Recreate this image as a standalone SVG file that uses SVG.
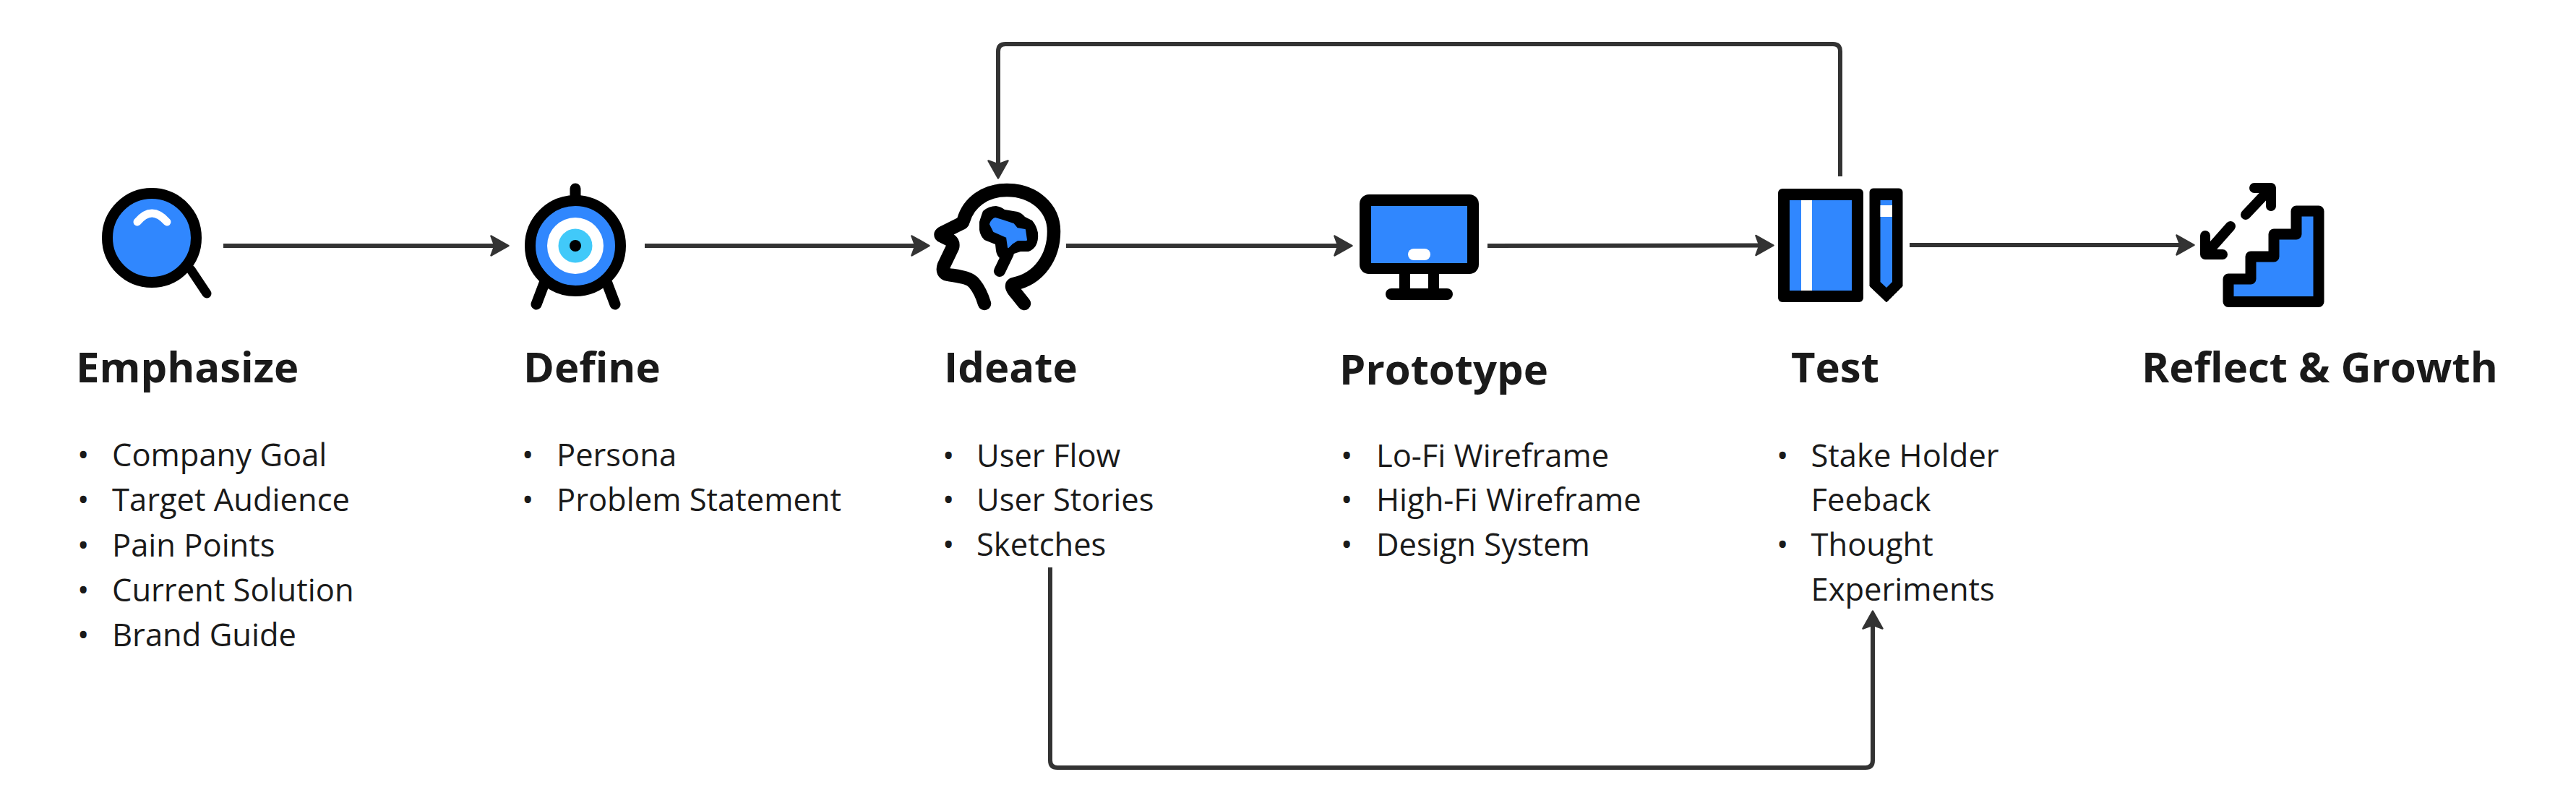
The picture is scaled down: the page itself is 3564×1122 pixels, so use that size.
<svg xmlns="http://www.w3.org/2000/svg" width="3564" height="1122" viewBox="0 0 3564 1122">
<style>
text{font-family:"Open Sans","Noto Sans","Liberation Sans",sans-serif;fill:#1a1a1a}
.h{font-size:58px;font-weight:700}
.l{font-size:43.500px}
.c{fill:none;stroke:#333;stroke-width:6;stroke-linejoin:round}
.k{fill:none;stroke:#000;stroke-linecap:round;stroke-linejoin:round}
.b{fill:#3087fe}
</style>
<defs>
<marker id="a" markerUnits="userSpaceOnUse" markerWidth="28" markerHeight="34" viewBox="0 0 28 34" refX="15" refY="17" orient="auto">
<path d="M1.500 3.500 L25.500 17 L1.500 30.500 L6.500 17Z" fill="#333" stroke="#333" stroke-width="2.500" stroke-linejoin="round"/>
</marker>
</defs>
<rect width="3564" height="1122" fill="#fff"/>
<g id="connectors">
<path class="c" marker-end="url(#a)" d="M309 340H693"/>
<path class="c" marker-end="url(#a)" d="M892 340H1275"/>
<path class="c" marker-end="url(#a)" d="M1475 340H1860"/>
<path class="c" marker-end="url(#a)" d="M2058 340L2443 339.500"/>
<path class="c" marker-end="url(#a)" d="M2642 339H3025"/>
<path class="c" marker-end="url(#a)" d="M2546 244V71Q2546 61 2536 61H1391Q1381 61 1381 71V236"/>
<path class="c" marker-end="url(#a)" d="M1453 785V1052Q1453 1062 1463 1062H2581Q2591 1062 2591 1052V856"/>
</g>
<g id="emphasize">
<path class="k" stroke-width="13" d="M264 373L286 406"/>
<circle cx="210" cy="329" r="61.500" class="b" stroke="#000" stroke-width="15"/>
<path d="M190 307Q210 283 231 307" fill="none" stroke="#fff" stroke-width="11" stroke-linecap="round"/>
<text class="h" x="105" y="529">Emphasize</text>
<text class="l"><tspan x="107" y="645">•</tspan><tspan x="155" y="645">Company Goal</tspan></text>
<text class="l"><tspan x="107" y="707">•</tspan><tspan x="155" y="707">Target Audience</tspan></text>
<text class="l"><tspan x="107" y="770">•</tspan><tspan x="155" y="770">Pain Points</tspan></text>
<text class="l"><tspan x="107" y="832">•</tspan><tspan x="155" y="832">Current Solution</tspan></text>
<text class="l"><tspan x="107" y="894">•</tspan><tspan x="155" y="894">Brand Guide</tspan></text>
</g>
<g id="define">
<path class="k" stroke-width="15" d="M796 261V275M753 392L742 421M840 392L851 421"/>
<circle cx="796" cy="340" r="62.500" class="b" stroke="#000" stroke-width="15"/>
<circle cx="796" cy="340" r="39" fill="#fff"/>
<circle cx="796" cy="340" r="23.500" fill="#41c9f9"/>
<circle cx="796" cy="340" r="8" fill="#000"/>
<text class="h" x="724" y="529">Define</text>
<text class="l"><tspan x="722" y="645">•</tspan><tspan x="770" y="645">Persona</tspan></text>
<text class="l"><tspan x="722" y="707">•</tspan><tspan x="770" y="707">Problem Statement</tspan></text>
</g>
<g id="ideate">
<path class="k" stroke-width="18.500" d="M1417 420L1405 405Q1397 396 1402 393C1438 386 1458 355 1458 320C1458 287 1430 263 1393 263C1363 263 1340 280 1333 305Q1332 309 1328 310L1304 322Q1299 325 1304 327L1312 331Q1320 334 1318 342L1306 367Q1302 378 1312 380C1330 383 1342 384 1348 392Q1357 403 1362 420"/>
<path class="k" stroke-width="16" d="M1395 350L1383 375"/>
<path d="M1355 307Q1358 297 1360 292Q1368 285 1378 285Q1385 286 1390 290L1408 293Q1414 295 1418 300L1428 305Q1434 312 1436 322Q1437 333 1433 340Q1429 346 1423 348L1412 348L1397 353L1383 357Q1379 353 1378 347L1377 338L1362 332Q1356 326 1355 318Z" fill="#000"/>
<path d="M1370 310Q1372 304 1377 302L1387 305L1402 310L1407 316L1418 318L1420 332L1408 332L1400 337L1395 342L1393 328L1375 320Z" class="b" stroke="#3087fe" stroke-width="2" stroke-linejoin="round"/>
<text class="h" x="1306" y="529">Ideate</text>
<text class="l"><tspan x="1304" y="646">•</tspan><tspan x="1351" y="646">User Flow</tspan></text>
<text class="l"><tspan x="1304" y="707">•</tspan><tspan x="1351" y="707">User Stories</tspan></text>
<text class="l"><tspan x="1304" y="769">•</tspan><tspan x="1351" y="769">Sketches</tspan></text>
</g>
<g id="prototype">
<rect x="1936" y="375" width="15" height="28" fill="#000"/>
<rect x="1976" y="375" width="15" height="28" fill="#000"/>
<rect x="1917" y="399" width="93" height="16" rx="8" fill="#000"/>
<rect x="1881" y="269" width="165" height="110" rx="13" fill="#000"/>
<rect x="1897" y="285" width="133" height="79" class="b"/>
<rect x="1948" y="344" width="31" height="16" rx="8" fill="#fff"/>
<text class="h" x="1853" y="532">Prototype</text>
<text class="l"><tspan x="1855" y="646">•</tspan><tspan x="1904" y="646">Lo-Fi Wireframe</tspan></text>
<text class="l"><tspan x="1855" y="707">•</tspan><tspan x="1904" y="707">High-Fi Wireframe</tspan></text>
<text class="l"><tspan x="1855" y="769">•</tspan><tspan x="1904" y="769">Design System</tspan></text>
</g>
<g id="test">
<rect x="2460" y="261" width="118" height="157" rx="6" fill="#000"/>
<rect x="2476" y="277" width="86" height="125" class="b"/>
<rect x="2492" y="277" width="15" height="125" fill="#fff"/>
<path d="M2592 261H2627Q2632 261 2632 266V396L2610 418L2587 396V266Q2587 261 2592 261Z" fill="#000" stroke="#000" stroke-linejoin="round"/>
<path d="M2601.500 277H2618V390L2610 398L2601.500 390Z" class="b"/>
<rect x="2601.500" y="284" width="16.500" height="16" fill="#fff"/>
<text class="h" x="2478" y="529">Test</text>
<text class="l"><tspan x="2458" y="646">•</tspan><tspan x="2505.500" y="646">Stake Holder</tspan></text>
<text class="l" x="2505.500" y="707">Feeback</text>
<text class="l"><tspan x="2458" y="769">•</tspan><tspan x="2505.500" y="769">Thought</tspan></text>
<text class="l" x="2505.500" y="831">Experiments</text>
</g>
<g id="reflect">
<path d="M3083 417.500H3208V292H3177V324H3146V355H3114V386H3083Z" class="b" stroke="#000" stroke-width="15" stroke-linejoin="round"/>
<path class="k" stroke-width="14" d="M3119 260H3142V285M3107 297L3140 262M3051 326V352H3075M3086 313L3055 348"/>
<text class="h" x="2963" y="529">Reflect &amp; Growth</text>
</g>
</svg>
